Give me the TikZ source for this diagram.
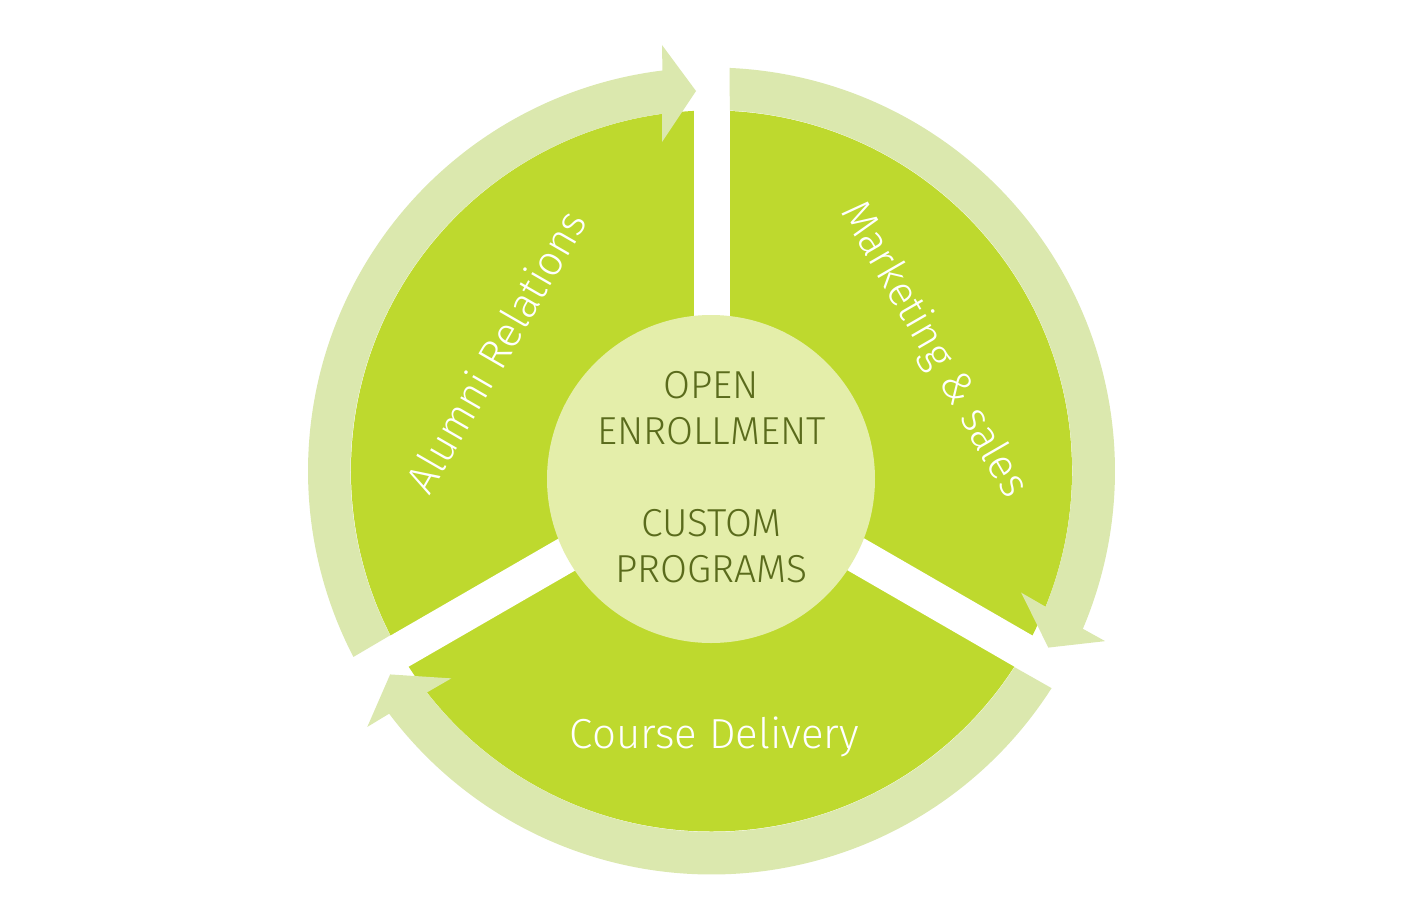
\documentclass[tikz,border=0pt]{standalone}
\usepackage{fontspec}
\setmainfont{Fira Sans Light}
\definecolor{sectorgreen}{HTML}{BED92E}
\definecolor{bandgreen}{HTML}{DBE8AE}
\definecolor{hubgreen}{HTML}{E4EEAA}
\definecolor{hubtext}{HTML}{5A6B1C}
\tikzset{
  sector/.style={fill=sectorgreen},
  gapline/.style={draw=white, line width=36pt},
  bandarrow/.style={fill=bandgreen},
  hub/.style={circle, fill=hubgreen, minimum size=328pt, inner sep=0pt},
  hubtxt/.style={text=hubtext, align=center, font=\fontsize{39}{46}\selectfont},
  lbl/.style={text=white, font=\fontsize{42}{48}\selectfont, inner sep=0pt},
}
\begin{document}
\begin{tikzpicture}[x=1pt,y=1pt]
\useasboundingbox (-711.5,-443) rectangle (692.5,471);
% green disk and gaps
\fill[sector] (0,0) circle[radius=360.5pt];
\coordinate (O) at (0,0);
\coordinate (g1) at (90:440pt);
\coordinate (g2) at (210:440pt);
\coordinate (g3) at (330:440pt);
\draw[gapline] (O) -- (g1);
\draw[gapline] (O) -- (g2);
\draw[gapline] (O) -- (g3);
% three curved arrows (rotational copies)
\foreach \r in {0,-120,-240}{
  \begin{scope}[rotate=\r]
    \fill[bandarrow] (207.44:403.5pt)
      arc[start angle=207.44, end angle=96.98, radius=403.5pt]
      -- (-49.5,426) -- (-15.5,380) -- (-49.5,329) -- (-49.5,357.2)
      arc[start angle=97.81, end angle=207.13, radius=360.5pt] -- cycle;
  \end{scope}
}
% hub
\node[hub] (hubc) at (-0.5,-8) {};
\node[hubtxt] (hubt) at (0,-6) {OPEN\\ENROLLMENT\\[46pt]CUSTOM\\PROGRAMS};
% sector labels
\node[lbl, rotate=60] (alumni) at (-216,120) {Alumni Relations};
\node[lbl, rotate=-60] (market) at (222,121) {Marketing \& sales};
\node[lbl] (course) at (3,-266) {Course Delivery};
\end{tikzpicture}
\end{document}
